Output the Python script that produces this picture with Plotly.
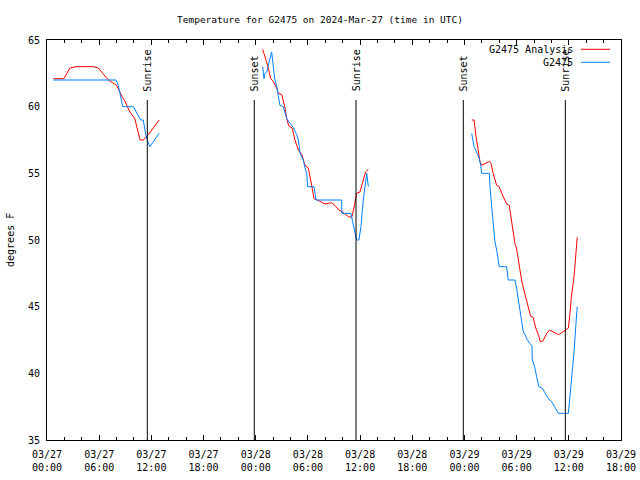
import plotly.graph_objects as go

# ---- data ----
analysis_times = [
    "2024-03-27 00:44", "2024-03-27 01:57", "2024-03-27 02:38", "2024-03-27 03:20", "2024-03-27 05:20",
    "2024-03-27 05:54", "2024-03-27 07:03", "2024-03-27 08:00", "2024-03-27 08:36", "2024-03-27 08:58",
    "2024-03-27 09:32", "2024-03-27 10:06", "2024-03-27 10:42", "2024-03-27 11:04", "2024-03-27 11:39",
    "2024-03-27 12:12", "2024-03-27 12:54",
    None,
    "2024-03-28 00:48", "2024-03-28 01:04", "2024-03-28 01:27", "2024-03-28 01:43", "2024-03-28 02:01",
    "2024-03-28 02:24", "2024-03-28 02:36", "2024-03-28 03:00", "2024-03-28 03:22", "2024-03-28 03:34",
    "2024-03-28 03:48", "2024-03-28 04:12", "2024-03-28 04:30", "2024-03-28 04:54", "2024-03-28 05:18",
    "2024-03-28 05:40", "2024-03-28 06:03", "2024-03-28 06:19", "2024-03-28 06:42", "2024-03-28 07:24",
    "2024-03-28 07:58", "2024-03-28 08:42", "2024-03-28 09:06", "2024-03-28 09:34", "2024-03-28 10:04",
    "2024-03-28 10:39", "2024-03-28 11:02", "2024-03-28 11:18", "2024-03-28 11:36", "2024-03-28 11:59",
    "2024-03-28 12:18", "2024-03-28 12:38", "2024-03-28 12:57",
    None,
    "2024-03-29 00:50", "2024-03-29 01:06", "2024-03-29 01:20", "2024-03-29 01:36", "2024-03-29 01:47",
    "2024-03-29 01:59", "2024-03-29 02:22", "2024-03-29 02:52", "2024-03-29 03:03", "2024-03-29 03:18",
    "2024-03-29 03:42", "2024-03-29 04:00", "2024-03-29 04:17", "2024-03-29 04:40", "2024-03-29 04:51",
    "2024-03-29 05:09", "2024-03-29 05:24", "2024-03-29 05:36", "2024-03-29 05:48", "2024-03-29 05:59",
    "2024-03-29 06:12", "2024-03-29 06:34", "2024-03-29 06:50", "2024-03-29 07:09", "2024-03-29 07:36",
    "2024-03-29 07:54", "2024-03-29 08:12", "2024-03-29 08:30", "2024-03-29 08:42", "2024-03-29 09:00",
    "2024-03-29 09:28", "2024-03-29 09:48", "2024-03-29 10:12", "2024-03-29 10:48", "2024-03-29 11:12",
    "2024-03-29 11:34", "2024-03-29 11:57", "2024-03-29 12:08", "2024-03-29 12:18", "2024-03-29 12:36",
    "2024-03-29 12:42", "2024-03-29 12:50", "2024-03-29 12:58",
]
analysis_temps = [
    62.1, 62.1, 62.9, 63.0, 63.0, 62.9, 62.0, 61.6, 60.8, 60.4, 59.6, 59.1, 57.5, 57.5, 57.9, 58.4, 59.0,
    None,
    64.3, 63.75, 62.9, 62.1, 61.9, 61.4, 61.0, 60.9, 59.9, 59.1, 58.55, 58.4, 57.5, 56.75, 56.4,
    55.6, 55.4, 54.5, 53.1, 52.9, 52.7, 52.8, 52.6, 52.25, 52.05, 51.75, 51.7, 52.4, 53.5, 53.6,
    54.4, 55.1, 55.3,
    None,
    59.0, 59.0, 57.75, 56.75, 55.9, 55.6, 55.75, 55.9, 55.75, 55.0, 54.1, 54.0, 53.5, 53.0, 52.7,
    52.6, 51.5, 50.5, 49.75, 49.4, 48.5, 47.0, 46.25, 45.5, 44.3, 44.2, 43.4, 42.9, 42.4, 42.4,
    43.0, 43.25, 43.1, 42.9, 43.05, 43.25, 43.4, 44.5, 45.75, 47.25, 48.0, 49.0, 50.2,
]

station_times = [
    "2024-03-27 00:44", "2024-03-27 07:56", "2024-03-27 08:12", "2024-03-27 08:24", "2024-03-27 08:42",
    "2024-03-27 09:56", "2024-03-27 10:18", "2024-03-27 10:46", "2024-03-27 11:04", "2024-03-27 11:23",
    "2024-03-27 11:35", "2024-03-27 11:50", "2024-03-27 12:53",
    None,
    "2024-03-28 00:48", "2024-03-28 00:57", "2024-03-28 01:04", "2024-03-28 01:16", "2024-03-28 01:27",
    "2024-03-28 01:46", "2024-03-28 01:50", "2024-03-28 02:01", "2024-03-28 02:12", "2024-03-28 02:24",
    "2024-03-28 02:47", "2024-03-28 03:10", "2024-03-28 03:34", "2024-03-28 03:56", "2024-03-28 04:19",
    "2024-03-28 04:42", "2024-03-28 04:54", "2024-03-28 05:06", "2024-03-28 05:28", "2024-03-28 05:40",
    "2024-03-28 05:52", "2024-03-28 05:58", "2024-03-28 06:42", "2024-03-28 06:56", "2024-03-28 09:53",
    "2024-03-28 09:54", "2024-03-28 10:57", "2024-03-28 11:08", "2024-03-28 11:20", "2024-03-28 11:36",
    "2024-03-28 11:52", "2024-03-28 12:06", "2024-03-28 12:22", "2024-03-28 12:34", "2024-03-28 12:46",
    "2024-03-28 12:57",
    None,
    "2024-03-29 00:50", "2024-03-29 00:57", "2024-03-29 01:06", "2024-03-29 01:24", "2024-03-29 01:42",
    "2024-03-29 01:52", "2024-03-29 01:59", "2024-03-29 02:52", "2024-03-29 02:56", "2024-03-29 03:08",
    "2024-03-29 03:18", "2024-03-29 03:30", "2024-03-29 03:42", "2024-03-29 03:54", "2024-03-29 04:00",
    "2024-03-29 04:51", "2024-03-29 05:02", "2024-03-29 05:48", "2024-03-29 06:00", "2024-03-29 06:12",
    "2024-03-29 06:24", "2024-03-29 06:34", "2024-03-29 06:46", "2024-03-29 06:58", "2024-03-29 07:12",
    "2024-03-29 07:30", "2024-03-29 07:46", "2024-03-29 07:48", "2024-03-29 08:04", "2024-03-29 08:18",
    "2024-03-29 08:33", "2024-03-29 08:56", "2024-03-29 09:18", "2024-03-29 09:42", "2024-03-29 10:00",
    "2024-03-29 10:24", "2024-03-29 10:48", "2024-03-29 11:57", "2024-03-29 12:08", "2024-03-29 12:24",
    "2024-03-29 12:36", "2024-03-29 12:48", "2024-03-29 12:58",
]
station_temps = [
    62.0, 62.0, 61.6, 61.0, 60.0, 60.0, 59.6, 59.0, 59.0, 57.8, 57.4, 57.0, 58.0,
    None,
    63.0, 62.1, 62.5, 62.6, 63.1, 64.0, 64.1, 63.0, 62.0, 61.6, 60.1, 60.0, 59.1, 58.75, 58.45,
    57.9, 57.5, 56.5, 56.0, 55.4, 55.0, 54.0, 54.0, 53.0, 53.0, 52.0, 52.0, 51.4, 50.75, 50.0,
    50.0, 51.0, 53.0, 54.25, 55.0, 54.0,
    None,
    58.0, 57.5, 57.0, 56.6, 56.1, 55.6, 55.0, 55.0, 54.0, 52.5, 51.1, 49.9, 49.25, 48.6, 48.0,
    48.0, 47.0, 47.0, 46.4, 45.5, 44.75, 44.0, 43.1, 42.9, 42.55, 42.25, 42.05, 41.0, 40.5, 39.75,
    39.0, 38.9, 38.5, 38.05, 37.9, 37.4, 37.0, 37.0, 38.25, 40.0, 41.6, 43.5, 45.0,
]

event_times = ["2024-03-27 11:32", "2024-03-27 23:50", "2024-03-28 11:32", "2024-03-28 23:52", "2024-03-29 11:36"]
event_labels = ["Sunrise", "Sunset", "Sunrise", "Sunset", "Sunrise"]

tick_times = ["2024-03-27 00:00", "2024-03-27 06:00", "2024-03-27 12:00", "2024-03-27 18:00",
              "2024-03-28 00:00", "2024-03-28 06:00", "2024-03-28 12:00", "2024-03-28 18:00",
              "2024-03-29 00:00", "2024-03-29 06:00", "2024-03-29 12:00", "2024-03-29 18:00"]
tick_labels = ["03/27<br>00:00", "03/27<br>06:00", "03/27<br>12:00", "03/27<br>18:00",
               "03/28<br>00:00", "03/28<br>06:00", "03/28<br>12:00", "03/28<br>18:00",
               "03/29<br>00:00", "03/29<br>06:00", "03/29<br>12:00", "03/29<br>18:00"]
y_ticks = [35, 40, 45, 50, 55, 60, 65]

series_names = ["G2475 Analysis", "G2475"]
series_colors = ["#ff0000", "#0080ff"]

FONT = "DejaVu Sans Mono"

fig = go.Figure()
fig.add_trace(go.Scatter(x=analysis_times, y=analysis_temps, mode="lines", name=series_names[0],
                         line=dict(color=series_colors[0], width=1), connectgaps=False, showlegend=False))
fig.add_trace(go.Scatter(x=station_times, y=station_temps, mode="lines", name=series_names[1],
                         line=dict(color=series_colors[1], width=1), connectgaps=False, showlegend=False))

for t, lab in zip(event_times, event_labels):
    fig.add_shape(type="line", xref="x", yref="y", x0=t, x1=t, y0=35, y1=60.5,
                  line=dict(color="black", width=1))
    fig.add_annotation(x=t, y=61.0, xref="x", yref="y", text=lab, textangle=-90,
                       showarrow=False, xanchor="center", yanchor="bottom",
                       font=dict(family=FONT, size=10, color="black"))

# manual gnuplot-style key (text left of sample line)
key_y = [0.9768, 0.9443]
for name, col, ky in zip(series_names, series_colors, key_y):
    fig.add_annotation(x=0.9199, y=ky, xref="paper", yref="paper", text=name, showarrow=False,
                       xanchor="right", yanchor="middle", font=dict(family=FONT, size=10, color="black"))
    fig.add_shape(type="line", xref="paper", yref="paper", x0=0.9303, x1=0.9808, y0=ky, y1=ky,
                  line=dict(color=col, width=1))

fig.add_annotation(x=-0.0645, y=0.5, xref="paper", yref="paper", text="degrees F", textangle=-90,
                   showarrow=False, xanchor="center", yanchor="middle",
                   font=dict(family=FONT, size=10, color="black"))

fig.update_layout(
    width=640, height=480,
    margin=dict(l=47, r=19, t=40, b=40, autoexpand=False),
    paper_bgcolor="white", plot_bgcolor="white",
    title=dict(text="Temperature for G2475 on 2024-Mar-27 (time in UTC)", x=0.5, xanchor="center",
               y=1 - 20 / 480, yanchor="middle", yref="container",
               font=dict(family=FONT, size=9.5, color="black")),
    font=dict(family=FONT, size=10, color="black"),
)
fig.update_xaxes(type="date", range=[tick_times[0], tick_times[-1]], automargin=False,
                 tickmode="array", tickvals=tick_times, ticktext=tick_labels,
                 ticks="inside", ticklen=5, tickcolor="black", tickwidth=1,
                 minor=dict(ticks="inside", ticklen=3, dtick=2 * 3600 * 1000, tick0=tick_times[0],
                            tickcolor="black", showgrid=False),
                 showline=True, linecolor="black", linewidth=1, mirror="ticks",
                 showgrid=False, zeroline=False, ticklabelstandoff=5,
                 tickfont=dict(family=FONT, size=10, color="black"))
fig.update_yaxes(range=[35, 65], tickmode="array", tickvals=y_ticks, ticks="", automargin=False,
                 showline=True, linecolor="black", linewidth=1, mirror=True,
                 showgrid=False, zeroline=False, ticklabelstandoff=4,
                 tickfont=dict(family=FONT, size=10, color="black"))

fig.write_html("out.html", config={"displayModeBar": False},
               post_script="document.body.style.margin='0';")
